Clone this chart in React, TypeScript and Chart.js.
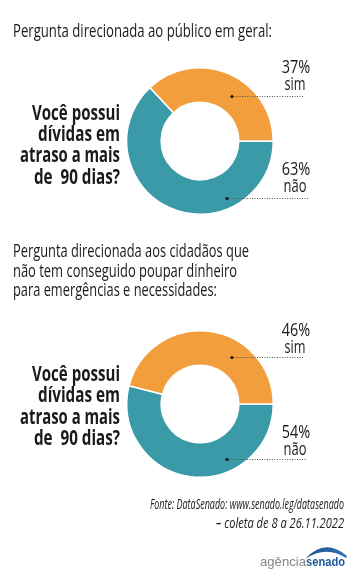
import React, { useEffect, useRef } from 'react';
import { Chart, registerables } from 'chart.js';

Chart.register(...registerables);

// ---- data ----
const categories = ['não', 'sim'];
const geralValues = [63, 37];
const poupancaValues = [54, 46];
const sliceColors = ['#3A9AA7', '#F29E3D'];

const title1 = 'Pergunta direcionada ao público em geral:';
const title2Lines = [
  'Pergunta direcionada aos cidadãos que',
  'não tem conseguido poupar dinheiro',
  'para emergências e necessidades:',
];
const questionLines = ['Você possui', 'dívidas em', 'atraso a mais', 'de  90 dias?'];
const sourceLines = ['Fonte: DataSenado: www.senado.leg/datasenado', '– coleta de 8 a 26.11.2022'];
const logoParts = ['agência', 'senado'];

// ---- layout ----
const FONT = "'Open Sans', 'Noto Sans', sans-serif";
const LOGO_FONT = "'Liberation Sans', Arial, sans-serif";
const CX = 200;
const CHART1_CY = 141;
const CHART2_CY = 404;
const TEXT = '#1a1a1a';

type Leader = { dy: number; dotDx: number; endDx: number };

const leaders1: Leader[] = [
  { dy: 56.5, dotDx: 27, endDx: 108 },
  { dy: -45.5, dotDx: 32, endDx: 103 },
];
const leaders2: Leader[] = [
  { dy: 54.5, dotDx: 27, endDx: 106 },
  { dy: -47, dotDx: 32, endDx: 103 },
];

const leaderPlugin = (leaders: Leader[]) => ({
  id: 'leaders',
  afterDatasetsDraw(chart: any) {
    const arc = chart.getDatasetMeta(0).data[0];
    if (!arc) return;
    const { x, y } = arc;
    const ctx = chart.ctx as CanvasRenderingContext2D;
    ctx.save();
    leaders.forEach((l) => {
      const ly = Math.round(y + l.dy) + 0.5;
      ctx.setLineDash([1, 1.5]);
      ctx.strokeStyle = '#555';
      ctx.lineWidth = 1;
      ctx.beginPath();
      ctx.moveTo(x + l.dotDx, ly);
      ctx.lineTo(x + l.endDx, ly);
      ctx.stroke();
      ctx.setLineDash([]);
      ctx.fillStyle = '#111';
      ctx.beginPath();
      ctx.arc(x + l.dotDx, ly, 1.6, 0, Math.PI * 2);
      ctx.fill();
    });
    ctx.restore();
  },
});

function Donut({ values, cy, leaders }: { values: number[]; cy: number; leaders: Leader[] }) {
  const ref = useRef<HTMLCanvasElement>(null);
  useEffect(() => {
    const chart = new Chart(ref.current!, {
      type: 'doughnut',
      data: {
        labels: categories,
        datasets: [
          {
            data: values,
            backgroundColor: sliceColors,
            borderColor: '#ffffff',
            borderWidth: 1.5,
            hoverBorderWidth: 1.5,
            hoverOffset: 0,
          },
        ],
      },
      options: {
        responsive: false,
        maintainAspectRatio: false,
        animation: false,
        rotation: 90,
        cutout: '53%',
        events: [],
        layout: { padding: { right: 42 } },
        plugins: { legend: { display: false }, tooltip: { enabled: false } },
      } as any,
      plugins: [leaderPlugin(leaders)],
    });
    return () => chart.destroy();
  }, []);
  return (
    <canvas
      ref={ref}
      width={190}
      height={148}
      style={{ position: 'absolute', left: CX - 74, top: cy - 74, width: 190, height: 148 }}
    />
  );
}

const pctDy = [34, -68];
const nameDy = [50.5, -51];
const nameLen = [23, 21];
const qWidths = [88, 82, 100, 86];

function Labels({ values, cy }: { values: number[]; cy: number }) {
  return (
    <>
      {categories.map((c, i) => (
        <g key={c}>
          <text
            x={296}
            y={cy + pctDy[i]}
            textAnchor="middle"
            fontSize={18.5}
            fontFamily={FONT}
            fill={TEXT}
            textLength={28.5}
            lengthAdjust="spacingAndGlyphs"
          >
            {`${values[i]}%`}
          </text>
          <text
            x={295}
            y={cy + nameDy[i]}
            textAnchor="middle"
            fontSize={18.5}
            fontFamily={FONT}
            fill={TEXT}
            textLength={nameLen[i]}
            lengthAdjust="spacingAndGlyphs"
          >
            {c}
          </text>
        </g>
      ))}
    </>
  );
}

function Question({ y0 }: { y0: number }) {
  return (
    <>
      {questionLines.map((t, i) => (
        <text
          key={i}
          x={120}
          y={y0 + i * 21.4}
          textAnchor="end"
          fontSize={20.5}
          fontWeight={700}
          fontFamily={FONT}
          fill={TEXT}
          textLength={qWidths[i]}
          lengthAdjust="spacingAndGlyphs"
          style={{ whiteSpace: 'pre' }}
        >
          {t}
        </text>
      ))}
    </>
  );
}

export default function App() {
  const t2Widths = [236, 224, 204];
  const t2Y = [256.5, 276.5, 296];
  return (
    <div
      style={{
        position: 'absolute',
        left: 0,
        top: 0,
        width: 362,
        height: 583,
        background: '#ffffff',
        overflow: 'hidden',
      }}
    >
      <Donut values={geralValues} cy={CHART1_CY} leaders={leaders1} />
      <Donut values={poupancaValues} cy={CHART2_CY} leaders={leaders2} />
      <svg
        width={362}
        height={583}
        style={{ position: 'absolute', left: 0, top: 0, pointerEvents: 'none' }}
      >
        <text
          x={13}
          y={37}
          fontSize={17.5}
          fontFamily={FONT}
          fill={TEXT}
          textLength={259}
          lengthAdjust="spacingAndGlyphs"
        >
          {title1}
        </text>
        {title2Lines.map((t, i) => (
          <text
            key={i}
            x={13}
            y={t2Y[i]}
            fontSize={17.5}
            fontFamily={FONT}
            fill={TEXT}
            textLength={t2Widths[i]}
            lengthAdjust="spacingAndGlyphs"
          >
            {t}
          </text>
        ))}
        <Question y0={119.5} />
        <Question y0={381} />
        <Labels values={geralValues} cy={CHART1_CY} />
        <Labels values={poupancaValues} cy={CHART2_CY} />
        <text
          x={344}
          y={509}
          textAnchor="end"
          fontSize={14.5}
          fontStyle="italic"
          fontFamily={FONT}
          fill={TEXT}
          textLength={194}
          lengthAdjust="spacingAndGlyphs"
        >
          {sourceLines[0]}
        </text>
        <text
          x={344}
          y={528}
          textAnchor="end"
          fontSize={14.5}
          fontStyle="italic"
          fontFamily={FONT}
          fill={TEXT}
          textLength={128}
          lengthAdjust="spacingAndGlyphs"
        >
          {sourceLines[1]}
        </text>
        <defs>
          <linearGradient id="swoosh" x1="0" y1="0" x2="1" y2="0">
            <stop offset="0" stopColor="#1b4f8e" />
            <stop offset="1" stopColor="#2f74b8" />
          </linearGradient>
        </defs>
        <path
          d="M305,559 Q325,537 347,556 L346,558 Q326,545 305,559 Z"
          fill="url(#swoosh)"
        />
        <text
          x={260}
          y={566}
          fontSize={13}
          fontWeight={400}
          fontFamily={LOGO_FONT}
          fill="#858585"
          textLength={46}
          lengthAdjust="spacingAndGlyphs"
        >
          {logoParts[0]}
        </text>
        <text
          x={306}
          y={566}
          fontSize={13}
          fontWeight={700}
          fontFamily={LOGO_FONT}
          fill="#1c5a9c"
          textLength={39}
          lengthAdjust="spacingAndGlyphs"
        >
          {logoParts[1]}
        </text>
      </svg>
    </div>
  );
}
